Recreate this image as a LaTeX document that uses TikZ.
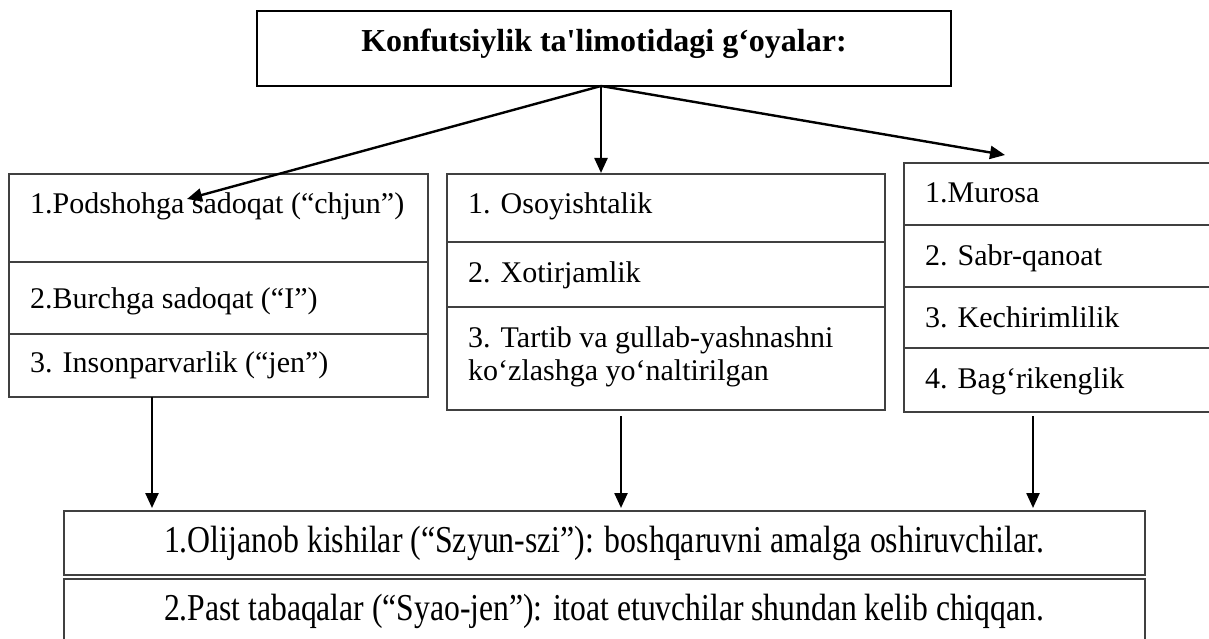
\documentclass[tikz,border=0pt]{standalone}
\usepackage{fontspec}
\setmainfont{Liberation Serif}[Ligatures=TeXOff]
\usepackage{graphicx}
\usetikzlibrary{arrows.meta}
\begin{document}
\begin{tikzpicture}[x=1pt,y=-1pt,
  boxline/.style={draw=black!75,line width=1.2pt},
  bigbox/.style={draw=black,line width=1.8pt,inner sep=0pt},
  txt/.style={anchor=base west,inner sep=0pt,font=\fontsize{30}{33}\selectfont},
  arr/.style={line width=2.4pt,-{Triangle[length=15pt,width=13pt]}}]
\useasboundingbox (0,0) rectangle (1209,639);
\clip (0,0) rectangle (1209,639);
% top box
\node[bigbox,minimum width=694pt,minimum height=75pt] (top) at (604,48.5) {};
\node[anchor=base,inner sep=0pt,font=\fontsize{32}{35}\selectfont\bfseries] (title) at (604,52) {Konfutsiylik ta'limotidagi g‘oyalar:};
% left box
\draw[boxline] (9,174) rectangle (428,397);
\draw[boxline] (9,262) -- (428,262);
\draw[boxline] (9,334) -- (428,334);
\node[txt] (l1) at (30,213) {1.Podshohga sadoqat (“chjun”)};
\node[txt] (l2) at (30,308) {2.Burchga sadoqat (“I”)};
\node[txt] (l3) at (30,372) {3. Insonparvarlik (“jen”)};
% middle box
\draw[boxline] (447,174) rectangle (885,410);
\draw[boxline] (447,242) -- (885,242);
\draw[boxline] (447,307) -- (885,307);
\node[txt] (m1) at (468,213) {1. Osoyishtalik};
\node[txt] (m2) at (468,282) {2. Xotirjamlik};
\node[txt] (m3) at (468,347) {3. Tartib va gullab-yashnashni};
\node[txt] (m4) at (468,380) {ko‘zlashga yo‘naltirilgan};
% right box
\draw[boxline] (904,163) rectangle (1220,412);
\draw[boxline] (904,225) -- (1220,225);
\draw[boxline] (904,287) -- (1220,287);
\draw[boxline] (904,348) -- (1220,348);
\node[txt] (r1) at (925,203) {1.Murosa};
\node[txt] (r2) at (925,265) {2. Sabr-qanoat};
\node[txt] (r3) at (925,327) {3. Kechirimlilik};
\node[txt] (r4) at (925,388) {4. Bag‘rikenglik};
% bottom boxes
\draw[boxline] (64,511) rectangle (1145,575);
\draw[boxline] (64,579) rectangle (1145,645);
\node[anchor=base,inner sep=0pt] (b1) at (604,552) {\resizebox{880pt}{\height}{\fontsize{38}{42}\selectfont 1.Olijanob kishilar (“Szyun-szi”): boshqaruvni amalga oshiruvchilar.}};
\node[anchor=base,inner sep=0pt] (b2) at (604,620) {\resizebox{880pt}{\height}{\fontsize{38}{42}\selectfont 2.Past tabaqalar (“Syao-jen”): itoat etuvchilar shundan kelib chiqqan.}};
% connector coordinates
\coordinate (o) at (601,86);
\coordinate (tl) at (187,199);
\coordinate (tm) at (601,173);
\coordinate (tr) at (1005,155);
\coordinate (sl) at (152,397);
\coordinate (el) at (152,508);
\coordinate (sm) at (621,416);
\coordinate (em) at (621,508);
\coordinate (sr) at (1033,416);
\coordinate (er) at (1033,508);
\draw[arr] (o) -- (tl);
\draw[arr] (o) -- (tm);
\draw[arr] (o) -- (tr);
\draw[arr] (sl) -- (el);
\draw[arr] (sm) -- (em);
\draw[arr] (sr) -- (er);
\end{tikzpicture}
\end{document}
